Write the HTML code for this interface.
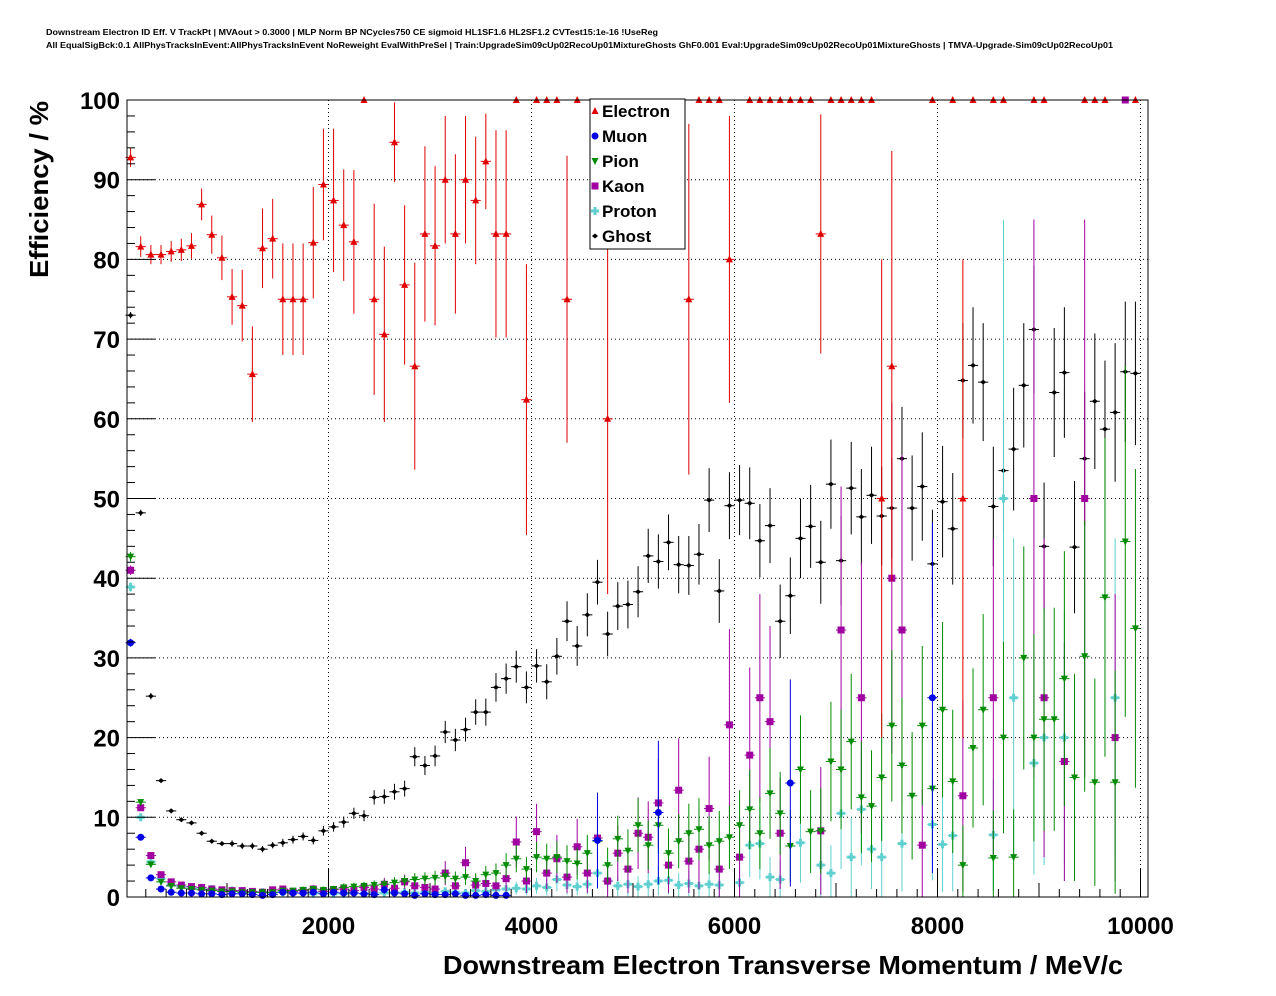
<!DOCTYPE html>
<html><head><meta charset="utf-8"><style>
body{margin:0;background:#fff;}
svg{display:block;font-family:"Liberation Sans",Arial,sans-serif;}
</style></head><body>
<svg id="c" width="1276" height="996" xmlns="http://www.w3.org/2000/svg">
<text x="46" y="35" font-size="8" font-weight="bold" textLength="612" lengthAdjust="spacingAndGlyphs">Downstream Electron ID Eff. V TrackPt | MVAout &gt; 0.3000 | MLP Norm BP NCycles750 CE sigmoid HL1SF1.6 HL2SF1.2 CVTest15:1e-16 !UseReg</text>
<text x="46" y="48" font-size="8" font-weight="bold" textLength="1067" lengthAdjust="spacingAndGlyphs">All EqualSigBck:0.1 AllPhysTracksInEvent:AllPhysTracksInEvent NoReweight EvalWithPreSel | Train:UpgradeSim09cUp02RecoUp01MixtureGhosts GhF0.001 Eval:UpgradeSim09cUp02RecoUp01MixtureGhosts | TMVA-Upgrade-Sim09cUp02RecoUp01</text>
<g id="grid"></g>
<g id="marks"></g>
<g id="axes"></g>
<text x="443" y="974" font-size="26" font-weight="bold" textLength="680" lengthAdjust="spacingAndGlyphs">Downstream Electron Transverse Momentum / MeV/c</text>
<text transform="translate(48,278) rotate(-90)" font-size="26" font-weight="bold" textLength="177" lengthAdjust="spacingAndGlyphs">Efficiency / %</text>
<g id="legend"></g>
</svg>
<script>
const N=null;
const xTicks=[2000,4000,6000,8000,10000];
const yTicks=[0,10,20,30,40,50,60,70,80,90,100];
const ghost=[73,48.2,25.2,14.6,10.8,9.7,9.3,8.0,7.0,6.7,6.7,6.4,6.4,6.0,6.5,6.8,7.2,7.6,7.1,8.3,8.8,9.4,10.5,10.2,12.5,12.6,13.2,13.6,17.6,16.5,17.7,20.7,19.7,21.0,23.2,23.2,26.3,27.4,28.9,26.3,29.0,27.0,30.2,34.6,31.5,35.4,39.5,33.0,36.5,36.7,38.3,42.8,42.1,44.5,41.7,41.6,43.0,49.8,38.4,49.1,49.8,49.4,44.7,46.6,34.6,37.8,45.0,46.5,42.0,51.8,42.2,51.3,47.7,50.4,47.8,48.8,55.0,48.8,51.5,41.8,49.6,46.2,64.8,66.7,64.6,49.0,53.5,56.2,64.2,71.2,44.0,63.3,65.8,43.9,55.0,62.2,58.7,60.8,65.9,65.7];
const ghostErr=[0.4,0.4,0.4,0.3,0.3,0.3,0.3,0.3,0.3,0.3,0.4,0.4,0.4,0.4,0.4,0.5,0.5,0.5,0.5,0.6,0.6,0.7,0.7,0.7,0.9,0.9,1,1,1.2,1.2,1.3,1.4,1.4,1.5,1.6,1.7,1.8,1.9,2,2,2.1,2.2,2.3,2.5,2.5,2.7,2.8,2.8,3,3,3.2,3.4,3.4,3.5,3.6,3.7,3.8,4,4,4.2,4.4,4.5,4.6,4.7,4.6,4.8,5,5.2,5.2,5.6,5.6,5.8,6,6.1,6.2,6.3,6.5,6.6,6.8,6.8,7,7,7.2,7.3,7.4,7.5,7.6,7.7,7.8,8,8,8.1,8.2,8.3,8.4,8.5,8.6,8.7,8.8,9];
const electron=[92.8,81.6,80.6,80.6,81.0,81.2,81.7,86.9,83.1,80.2,75.3,74.2,65.6,81.4,82.6,75,75,75,82.1,89.4,87.4,84.3,82.2,100,75,70.6,94.7,76.8,66.6,83.2,81.7,90,83.2,90,87.4,92.3,83.2,83.2,100,62.4,100,100,100,75,100,N,N,60,N,N,N,N,N,N,N,75,100,100,100,80,N,100,100,100,100,100,100,100,83.2,100,100,100,100,100,50,66.6,N,N,N,100,N,100,50,100,N,100,100,N,N,100,100,N,N,N,100,100,100,N,N,100];
const electronErr=[1.2,1.3,1.2,1.2,1.3,1.4,1.6,2,2.4,2.8,3.5,4.5,6,5,5,7,7,7,7,7,9,7,9,0,12,11,5,10,13,11,10,8,10,8,8,6,13,13,0,17,0,0,0,18,0,N,N,22,N,N,N,N,N,N,N,22,0,0,0,18,N,0,0,0,0,0,0,0,15,0,0,0,0,0,30,27,N,N,N,0,N,0,30,0,N,0,0,N,N,0,0,N,N,N,0,0,0,N,N,0];
const muon=[31.9,7.5,2.4,1.0,0.6,0.5,0.5,0.4,0.4,0.3,0.4,0.4,0.3,0.2,0.3,0.6,0.5,0.5,0.6,0.4,0.6,0.5,0.5,0.4,0.3,0.9,0.5,0.4,0.2,0.4,0.3,0.3,0.4,0.2,0.2,0.3,0.2,0.2,N,N,N,N,N,N,N,N,7.1,N,N,N,N,N,10.6,N,N,N,N,N,N,N,N,N,N,N,N,14.3,N,N,N,N,N,N,N,N,N,N,N,N,N,25,N,N,N,N,N,N,N,N,N,N,N,N,N,N,N,N,N,N,N,N];
const muonErr=[0.5,0.3,0.2,0.2,0.2,0.2,0.2,0.2,0.2,0.2,0.2,0.2,0.2,0.2,0.2,0.3,0.3,0.3,0.3,0.3,0.3,0.3,0.3,0.3,0.3,0.5,0.3,0.3,0.3,0.3,0.3,0.3,0.3,0.3,0.3,0.3,0.3,0.3,N,N,N,N,N,N,N,N,6,N,N,N,N,N,9,N,N,N,N,N,N,N,N,N,N,N,N,13,N,N,N,N,N,N,N,N,N,N,N,N,N,22,N,N,N,N,N,N,N,N,N,N,N,N,N,N,N,N,N,N,N,N];
const pion=[42.7,11.9,4.1,1.9,1.4,1.1,1.0,0.9,0.8,0.7,0.7,0.6,0.6,0.6,0.6,0.8,0.8,0.9,1.0,0.9,1.0,1.2,1.3,1.4,1.5,1.6,1.8,2.0,2.2,2.3,2.4,2.6,2.3,2.5,2.0,2.8,3.0,4.0,4.8,3.5,5.0,4.8,5.0,4.5,4.2,5.5,7.0,4.0,7.3,5.8,9.0,6.5,9.0,5.5,7.0,8.0,8.5,6.5,7.0,7.5,9.0,11.0,8.0,13.0,10.5,6.4,16.0,8.2,8.3,17.0,16.0,19.5,12.5,11.4,15.0,21.5,16.5,12.7,21.5,13.6,23.5,14.5,4.0,18.7,23.5,4.9,20.0,5.0,30.0,20.0,22.3,22.3,27.4,15.0,30.2,14.4,37.6,14.4,44.6,33.7];
const pionErr=[0.6,0.4,0.3,0.3,0.3,0.3,0.3,0.3,0.3,0.3,0.3,0.3,0.3,0.3,0.3,0.3,0.3,0.4,0.4,0.4,0.4,0.5,0.5,0.5,0.6,0.6,0.7,0.7,0.8,0.8,0.9,0.9,0.9,1,1,1.1,1.2,1.5,1.7,1.5,1.9,1.9,2,2,2,2.3,2.7,2.2,2.9,2.7,3.4,3.1,3.6,3.1,3.4,3.7,3.9,3.6,3.8,4,4.4,5,4.5,5.7,5.2,4.5,6.8,5.2,5.4,7.5,7.5,8.5,7,7,8,9.5,8.5,8,10,8.5,11,9,5,10,12,6,12,6,14,13,14,14,16,13,17,13,20,14,22,20];
const kaon=[41,11.2,5.2,2.8,1.9,1.5,1.3,1.2,1.0,0.9,0.8,0.8,0.7,0.6,0.9,1.0,0.7,0.8,1.0,0.7,0.9,1.0,0.8,1.2,1.0,1.6,1.1,1.9,1.4,1.2,1.0,3.0,1.4,4.3,1.5,1.7,1.4,2.3,6.9,2.0,8.2,3.0,4.8,2.5,6.3,3.0,7.4,2.0,5.5,3.5,8.0,7.5,11.8,4.0,13.4,4.5,6.0,11.1,3.5,21.6,5.0,17.8,25.0,22.0,8.0,N,N,N,8.3,N,33.5,N,25.0,N,N,40.0,33.5,N,6.5,N,N,N,12.7,N,N,25.0,N,N,N,50,25,N,17,N,50,N,N,20.0,100,N];
const kaonErr=[0.6,0.4,0.3,0.3,0.3,0.3,0.3,0.3,0.3,0.3,0.3,0.3,0.3,0.3,0.4,0.4,0.4,0.4,0.5,0.4,0.5,0.5,0.5,0.6,0.6,0.8,0.7,0.9,0.8,0.8,0.8,1.5,1,2,1.1,1.2,1.1,1.6,3.2,1.5,3.5,2,3,2,3.5,2.5,4,2,3.5,3,4.5,4.5,5.5,3.5,6.5,4,5,6.5,4,12,5,11,13,12,7,N,N,N,8,N,18,N,17,N,N,22,22,N,7,N,N,N,12,N,N,20,N,N,N,35,20,N,15,N,35,N,N,18,0,N];
const proton=[38.9,10.0,4.4,2.3,1.5,1.3,1.1,1.0,1.0,0.8,0.8,0.7,0.6,0.6,0.5,0.6,0.5,0.5,0.4,0.5,0.4,0.4,0.5,0.4,0.5,0.5,0.6,0.6,0.5,0.6,0.5,0.7,0.6,0.5,0.8,0.7,0.9,1.0,1.1,1.0,1.4,1.2,2.2,1.5,1.3,1.6,3.0,2.0,1.4,1.6,1.3,1.6,2.0,2.1,1.5,1.7,1.4,1.6,1.5,N,1.8,6.5,6.7,2.5,2.2,N,6.8,N,4.0,3.0,10.5,5.0,11.0,6.0,5.0,N,6.7,N,N,9.1,6.6,7.7,N,N,N,7.8,50,25,N,16.8,20.0,N,20.0,N,N,N,N,25,N,N];
const protonErr=[0.6,0.4,0.3,0.3,0.3,0.3,0.3,0.3,0.3,0.3,0.3,0.3,0.3,0.3,0.3,0.3,0.3,0.3,0.3,0.3,0.3,0.3,0.3,0.3,0.3,0.3,0.4,0.4,0.4,0.4,0.4,0.5,0.5,0.5,0.6,0.6,0.6,0.7,0.8,0.8,1,1,1.5,1.2,1.1,1.3,2,1.6,1.3,1.5,1.3,1.5,1.8,1.8,1.5,1.6,1.5,1.6,1.6,N,1.8,4,4.5,2.5,2.5,N,5,N,4,3.5,7,5,7,5,5,N,6,N,N,7,6,7,N,N,N,7,35,20,N,14,16,N,16,N,N,N,N,20,N,N];

const X0=125.5, XS=0.1015, Y0=897, YS=7.97;
const L=127,R=1148,T=100,B=897;
const sx=v=>X0+v*XS, sy=v=>Y0-v*YS;
const ns="http://www.w3.org/2000/svg";
function mk(tag,attrs,parent){const e=document.createElementNS(ns,tag);for(const k in attrs)e.setAttribute(k,attrs[k]);parent.appendChild(e);return e;}
const grid=document.getElementById('grid'),axes=document.getElementById('axes'),marks=document.getElementById('marks'),leg=document.getElementById('legend');
mk('rect',{x:L,y:T,width:R-L,height:B-T,fill:'none',stroke:'#000','stroke-width':1},axes);
xTicks.forEach(v=>{const x=sx(v);
 if(x<R-2){const g=mk('line',{x1:x,x2:x,y1:T,y2:B,stroke:'#000','stroke-dasharray':'1,3','stroke-width':1},grid);
 }
 const t=mk('text',{x:x,y:934,'font-size':24,'font-weight':'bold','text-anchor':'middle'},axes);t.textContent=v;
 });
for(let v=0;v<=10000;v+=200){const x=sx(v);if(x<L||x>R)continue;const len=v%2000===0?28:(v%1000===0?14:8);mk('line',{x1:x,x2:x,y1:B,y2:B-len,stroke:'#000'},axes);}
yTicks.forEach(v=>{const y=sy(v);
 if(v>0&&v<100){const g=mk('line',{x1:L,x2:R,y1:y,y2:y,stroke:'#000','stroke-dasharray':'1,3','stroke-width':1},grid);
 }
 const t=mk('text',{x:120,y:y+9,'font-size':24,'font-weight':'bold','text-anchor':'end'},axes);t.textContent=v;
 });
for(let v=0;v<=100;v+=2){const y=sy(v);const len=v%10===0?28:(v%5===0?14:8);mk('line',{x1:L,x2:L+len,y1:y,y2:y,stroke:'#000'},axes);}

function marker(kind,x,y,col,g){
 if(kind==='up')mk('polygon',{points:`${x},${y-4} ${x-3.5},${y+3} ${x+3.5},${y+3}`,fill:col},g);
 else if(kind==='down')mk('polygon',{points:`${x},${y+4} ${x-3.5},${y-3} ${x+3.5},${y-3}`,fill:col},g);
 else if(kind==='circ')mk('circle',{cx:x,cy:y,r:3.5,fill:col},g);
 else if(kind==='sq')mk('rect',{x:x-3.5,y:y-3.5,width:7,height:7,fill:col},g);
 else if(kind==='cross')mk('path',{d:`M${x-4},${y-1.5}h2.5v-2.5h3v2.5h2.5v3h-2.5v2.5h-3v-2.5h-2.5z`,fill:col},g);
 else mk('path',{d:`M${x-3},${y}L${x},${y-2.5}L${x+3},${y}L${x},${y+2.5}z`,fill:col},g);
}
const series=[
 {name:'ghost',vals:ghost,errs:ghostErr,col:'#000',kind:'diamond'},
 {name:'proton',vals:proton,errs:protonErr,col:'#5fcfcf',kind:'cross'},
 {name:'kaon',vals:kaon,errs:kaonErr,col:'#a000a0',kind:'sq'},
 {name:'pion',vals:pion,errs:pionErr,col:'#008c00',kind:'down'},
 {name:'muon',vals:muon,errs:muonErr,col:'#0000e6',kind:'circ'},
 {name:'electron',vals:electron,errs:electronErr,col:'#e00000',kind:'up'}];
series.forEach(s=>{
 const g=mk('g',{},marks);
 
 
 s.vals.forEach((v,i)=>{if(v===null)return;
  const c=50+100*i,x=sx(c),y=sy(v),e=s.errs[i]||0;
  const lo=sy(Math.max(0,v-e)),hi=sy(Math.min(100,v+e));
  mk('line',{x1:sx(c-50),x2:sx(c+50),y1:y,y2:y,stroke:s.col,'stroke-width':1},g);
  if(e>0)mk('line',{x1:x,x2:x,y1:hi,y2:lo,stroke:s.col,'stroke-width':1},g);
  marker(s.kind,x,y,s.col,g);
 });
});
mk('rect',{x:590,y:99,width:95,height:150,fill:'#fff',stroke:'#000','stroke-width':1},leg);
const legNames=['Electron','Muon','Pion','Kaon','Proton','Ghost'];
const legKinds=[['up','#e00000'],['circ','#0000e6'],['down','#008c00'],['sq','#a000a0'],['cross','#5fcfcf'],['diamond','#000']];
legNames.forEach((n,i)=>{const y=111+25*i;
 const g=mk('g',{},leg);
 
 
 marker(legKinds[i][0],595,y,legKinds[i][1],g);
 const t=mk('text',{x:602,y:y+6,'font-size':17,'font-weight':'bold'},g);t.textContent=n;});
</script>
</body></html>
